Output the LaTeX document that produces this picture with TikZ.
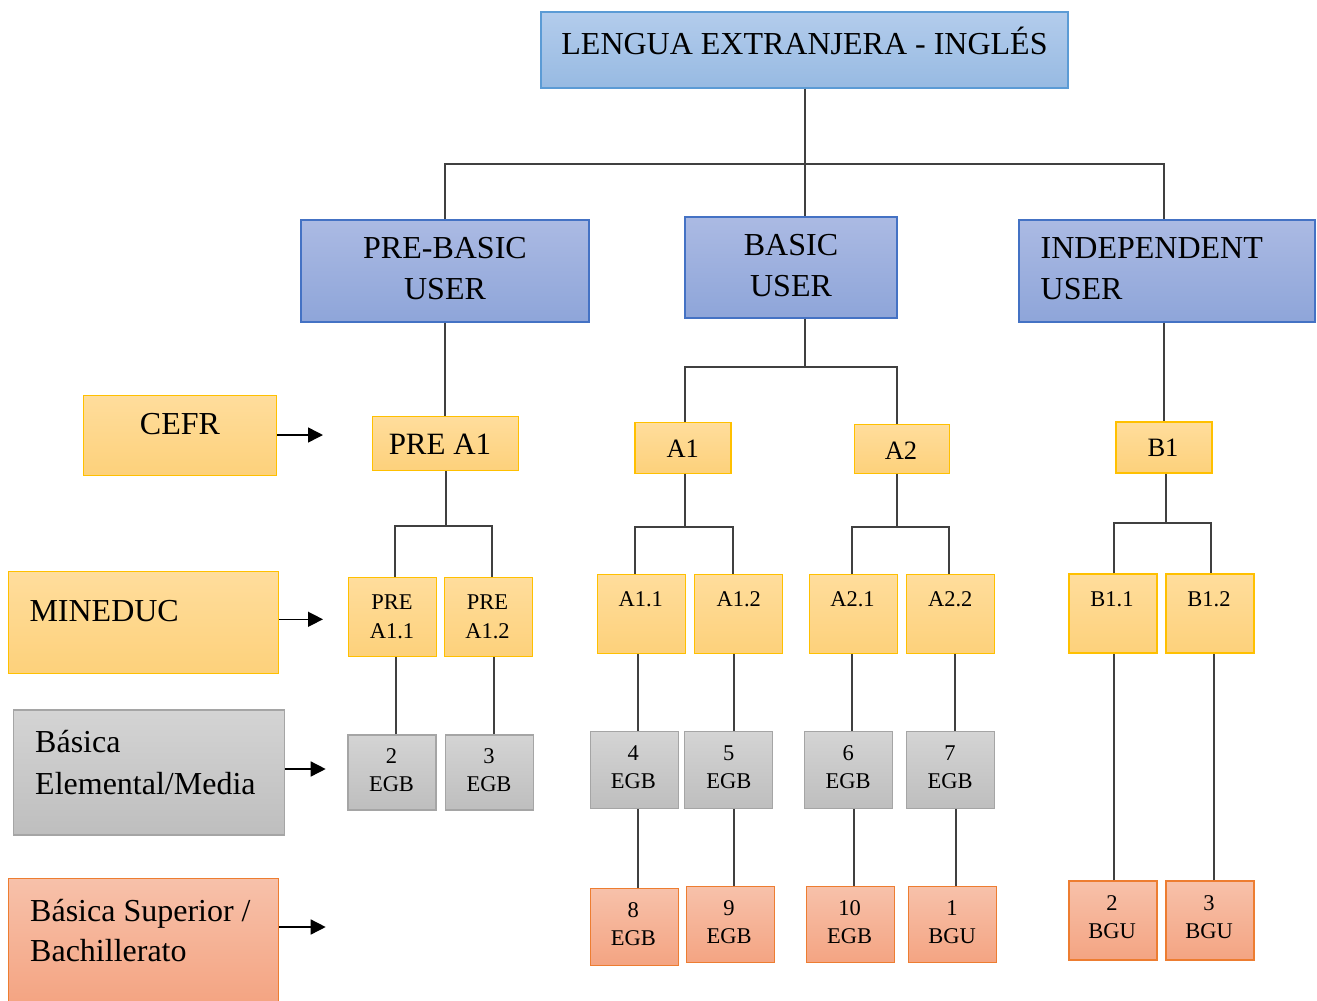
\documentclass[tikz,border=0pt]{standalone}
\usepackage{fontspec}
\setmainfont{Liberation Serif}
\usetikzlibrary{arrows.meta}

\definecolor{titletop}{HTML}{B3CCEC}
\definecolor{titlebot}{HTML}{97BAE2}
\definecolor{titleline}{HTML}{5B9BD5}
\definecolor{usertop}{HTML}{ABBAE3}
\definecolor{userbot}{HTML}{8EA5D9}
\definecolor{userline}{HTML}{4472C4}
\definecolor{leveltop}{HTML}{FFDD9C}
\definecolor{levelbot}{HTML}{FDD17B}
\definecolor{levelline}{HTML}{FFC000}
\definecolor{gradetop}{HTML}{D4D4D4}
\definecolor{gradebot}{HTML}{BEBEBE}
\definecolor{gradeline}{HTML}{A5A5A5}
\definecolor{uppertop}{HTML}{F7C1AA}
\definecolor{upperbot}{HTML}{F4A482}
\definecolor{upperline}{HTML}{ED7D31}
\definecolor{linkc}{HTML}{404040}

\begin{document}
\begin{tikzpicture} [x=1pt,y=-1pt,
	box/.style={
		rectangle,line width=1.2pt,inner sep=0pt},
	lengua/.style={
		box,draw=titleline,top color=titletop,bottom color=titlebot},
	user/.style={
		box,draw=userline,top color=usertop,bottom color=userbot},
	level/.style={
		box,draw=levelline,top color=leveltop,bottom color=levelbot},
	grade/.style={
		box,draw=gradeline,top color=gradetop,bottom color=gradebot},
	upper/.style={
		box,draw=upperline,top color=uppertop,bottom color=upperbot},
	small/.style={minimum width=88,minimum height=77},
	big/.style={
		inner sep=0pt,align=center,font=\fontsize{32}{40.5}\selectfont},
	left/.style={
		big,align=left,anchor=west},
	mid/.style={
		inner sep=0pt,font=\fontsize{26.5}{32}\selectfont},
	tiny/.style={
		inner sep=0pt,align=center,font=\fontsize{22.5}{28}\selectfont},
	link/.style={
		draw=linkc,line width=2pt},
	tip/.style={
		-{Triangle[length=15pt,width=15pt]},line width=1.5pt}]
\useasboundingbox (0,0) rectangle (1317,1001);

% boxes
\node[lengua,minimum width=527,minimum height=76] (title) 	at (804.5,50) {};
\node[user,minimum width=288,minimum height=102] (prebasic) 	at (445,271) {};
\node[user,minimum width=212,minimum height=101] (basic) 	at (791,267.5) {};
\node[user,minimum width=296,minimum height=102] (independent) 	at (1167,271) {};
\node[level,minimum width=193,minimum height=80] (cefr) 	at (180,435.3) {};
\node[level,minimum width=146,minimum height=54] (pa1) 		at (445.8,443.7) {};
\node[level,minimum width=96,minimum height=51] (a1) 		at (683,447.8) {};
\node[level,minimum width=95,minimum height=49] (a2) 		at (901.7,448.8) {};
\node[level,minimum width=96,minimum height=51] (b1) 		at (1164,447.5) {};
\node[level,minimum width=270,minimum height=102] (mineduc) 	at (143.8,622.5) {};
\node[level,small,minimum height=79] (pa11) 	at (392.5,617.2) {};
\node[level,small,minimum height=79] (pa12) 	at (488.5,617.2) {};
\node[level,small,minimum height=79] (a11) 	at (641.7,613.7) {};
\node[level,small,minimum height=79] (a12) 	at (738.7,613.7) {};
\node[level,small,minimum height=79] (a21) 	at (853.5,613.7) {};
\node[level,small,minimum height=79] (a22) 	at (950.8,613.7) {};
\node[level,small,minimum height=79] (b11) 	at (1113,613.5) {};
\node[level,small,minimum height=79] (b12) 	at (1210,613.5) {};
\node[grade,minimum width=271,minimum height=125] (basica) 	at (148.7,772.5) {};
\node[grade,small,minimum height=75] (egb2) 	at (392,772.5) {};
\node[grade,small,minimum height=75] (egb3) 	at (489.5,772.5) {};
\node[grade,small] (egb4) 	at (634.3,770) {};
\node[grade,small] (egb5) 	at (728.8,770) {};
\node[grade,small] (egb6) 	at (848.5,770) {};
\node[grade,small] (egb7) 	at (950.8,770) {};
\node[upper,minimum width=270,minimum height=125] (superior) 	at (143.8,941) {};
\node[upper,small] (egb8) 	at (634.3,926.7) {};
\node[upper,small,minimum height=76] (egb9) 	at (730.3,924.7) {};
\node[upper,small,minimum height=76] (egb10) 	at (850.2,924.7) {};
\node[upper,small,minimum height=76] (bgu1) 	at (952.5,924.7) {};
\node[upper,small,minimum height=79] (bgu2) 	at (1113,920.5) {};
\node[upper,small,minimum height=79] (bgu3) 	at (1210,920.5) {};

% texts
\node[big] (title txt) 		at (804.5,41) {LENGUA EXTRANJERA - INGLÉS};
\node[big] (prebasic txt) 	at (445,268.7) {PRE-BASIC\\USER};
\node[big] (basic txt) 		at (791,265.5) {BASIC\\USER};
\node[left] (independent txt) 	at (1040.5,268.7) {INDEPENDENT\\USER};
\node[big] (cefr txt) 		at (180,424) {CEFR};
\node[big,font=\fontsize{31}{38}\selectfont] (pa1 txt) 	at (440,444.5) {PRE A1};
\node[mid] (a1 txt) 		at (682.8,448.5) {A1};
\node[mid] (a2 txt) 		at (901,451) {A2};
\node[mid] (b1 txt) 		at (1163,448) {B1};
\node[left] (mineduc txt) 	at (29.3,611.5) {MINEDUC};
\node[tiny,font=\fontsize{22.5}{29}\selectfont] (pa11 txt) 	at (392,617) {PRE\\A1.1};
\node[tiny,font=\fontsize{22.5}{29}\selectfont] (pa12 txt) 	at (487.5,617) {PRE\\A1.2};
\node[tiny] (a11 txt) 	at (640.8,599) {A1.1};
\node[tiny] (a12 txt) 	at (738.8,599) {A1.2};
\node[tiny] (a21 txt) 	at (852.5,599) {A2.1};
\node[tiny] (a22 txt) 	at (950.3,599) {A2.2};
\node[tiny] (b11 txt) 	at (1112,599) {B1.1};
\node[tiny] (b12 txt) 	at (1209,599) {B1.2};
\node[left,font=\fontsize{32}{42}\selectfont] (basica txt) 	at (35,763) {Básica\\Elemental/Media};
\node[tiny] (egb2 txt) 	at (391.5,770) {2\\EGB};
\node[tiny] (egb3 txt) 	at (489,770) {3\\EGB};
\node[tiny] (egb4 txt) 	at (633.3,767.3) {4\\EGB};
\node[tiny] (egb5 txt) 	at (728.8,767.3) {5\\EGB};
\node[tiny] (egb6 txt) 	at (848.2,767.3) {6\\EGB};
\node[tiny] (egb7 txt) 	at (950,767.3) {7\\EGB};
\node[left] (superior txt) 	at (30,930.5) {Básica Superior /\\Bachillerato};
\node[tiny] (egb8 txt) 	at (633.3,924.2) {8\\EGB};
\node[tiny] (egb9 txt) 	at (729,922.4) {9\\EGB};
\node[tiny] (egb10 txt) at (849.7,922.4) {10\\EGB};
\node[tiny] (bgu1 txt) 	at (952,922.4) {1\\BGU};
\node[tiny] (bgu2 txt) 	at (1112,917.5) {2\\BGU};
\node[tiny] (bgu3 txt) 	at (1209,917.5) {3\\BGU};

% arrows
\coordinate (cefr end) 		at (323,435);
\coordinate (mineduc end) 	at (323,619.3);
\coordinate (basica end) 	at (325.7,769);
\coordinate (superior end) 	at (325.7,927);
\draw[tip] (cefr.east |- cefr end) -- (cefr end);
\draw[tip] (mineduc.east |- mineduc end) -- (mineduc end);
\draw[tip] (basica.east |- basica end) -- (basica end);
\draw[tip] (superior.east |- superior end) -- (superior end);

% tree
\draw[link] (title.south) -- ++(0,75) coordinate (j top);
\draw[link] (prebasic.north) |- (j top) -| ([xshift=-3pt]independent.north);
\draw[link] (j top) -- (j top |- basic.north);
\draw[link] (prebasic.south) -- (prebasic.south |- pa1.north);
\draw[link] (basic.south -| j top) -- ++(0,48) coordinate (j basic);
\draw[link] ([xshift=2pt]a1.north) |- (j basic) -| ([xshift=-4.5pt]a2.north);
\draw[link] (b1.north |- independent.south) -- (b1.north);

\draw[link] (pa1.south) -- ++(0,55) coordinate (j pa1);
\draw[link] ([xshift=2pt]pa11.north) |- (j pa1) -| ([xshift=3.5pt]pa12.north);
\draw[link] ([xshift=2pt]a1.south) -- ++(0,53) coordinate (j a1);
\draw[link] ([xshift=-6.7pt]a11.north) |- (j a1) -| ([xshift=-6pt]a12.north);
\draw[link] ([xshift=-4.7pt]a2.south) -- ++(0,53) coordinate (j a2);
\draw[link] ([xshift=-1.2pt]a21.north) |- (j a2) -| ([xshift=-1.5pt]a22.north);
\draw[link] ([xshift=2pt]b1.south) -- ++(0,49) coordinate (j b1);
\draw[link] ([xshift=1pt]b11.north) |- (j b1) -| ([xshift=1pt]b12.north);

\draw[link] ([xshift=4pt]egb2.north) -- ([xshift=4pt]egb2.north |- pa11.south);
\draw[link] ([xshift=4pt]egb3.north) -- ([xshift=4pt]egb3.north |- pa12.south);
\draw[link] ([xshift=3.7pt]egb4.north) -- ([xshift=3.7pt]egb4.north |- a11.south);
\draw[link] ([xshift=5pt]egb5.north) -- ([xshift=5pt]egb5.north |- a12.south);
\draw[link] ([xshift=-1.2pt]a21.south) -- ([xshift=-1.2pt]a21.south |- egb6.north);
\draw[link] ([xshift=4pt]egb7.north) -- ([xshift=4pt]egb7.north |- a22.south);
\draw[link] ([xshift=3.7pt]egb8.north) -- ([xshift=3.7pt]egb8.north |- egb4.south);
\draw[link] ([xshift=3.4pt]egb9.north) -- ([xshift=3.4pt]egb9.north |- egb5.south);
\draw[link] ([xshift=4pt]egb10.north) -- ([xshift=4pt]egb10.north |- egb6.south);
\draw[link] ([xshift=3.5pt]bgu1.north) -- ([xshift=3.5pt]bgu1.north |- egb7.south);
\draw[link] ([xshift=1pt]bgu2.north) -- ([xshift=1pt]bgu2.north |- b11.south);
\draw[link] ([xshift=4pt]bgu3.north) -- ([xshift=4pt]bgu3.north |- b12.south);
\end{tikzpicture}
\end{document}
